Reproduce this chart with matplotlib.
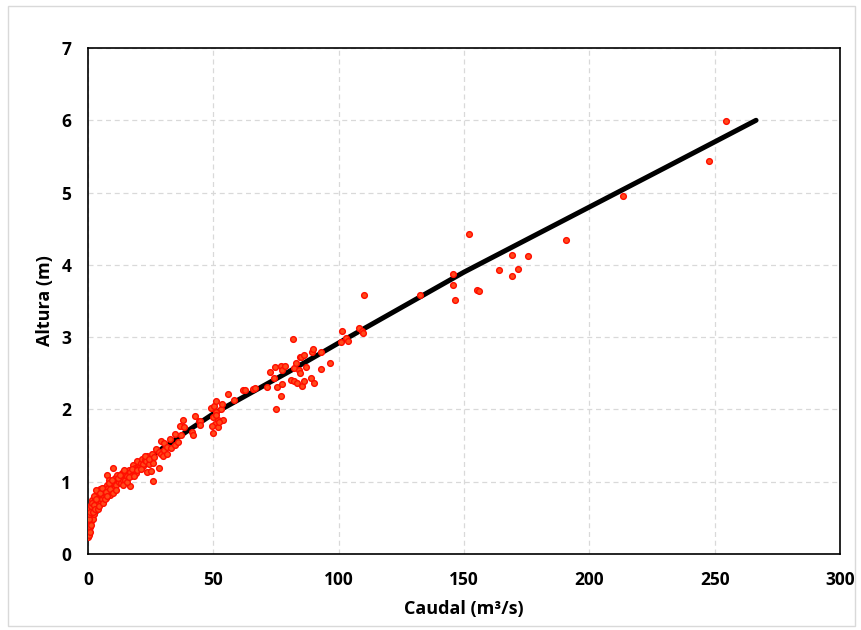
import matplotlib.pyplot as plt
from matplotlib.patches import Rectangle

# Datos aforados (caudal m3/s, altura m)
caudal = [0.1, 0.2, 0.3, 0.2, 0.4, 0.5, 0.3, 0.6, 0.7, 0.8, 0.5, 1.0, 1.1, 0.9, 1.3, 1.4, 1.6, 1.2, 1.8, 1.9,
          2.1, 2.3, 1.7, 2.5, 2.6, 2.8, 3.0, 3.2, 3.4, 3.6, 3.8, 4.0, 4.2, 4.5, 4.8, 5.0, 5.3, 5.6, 5.9, 6.2,
          6.5, 6.8, 7.1, 7.4, 7.4, 7.8, 8.1, 8.5, 8.8, 9.2, 9.6, 10.1, 10.0, 10.4, 10.8, 11.2, 11.7, 12.2, 12.6, 13.1,
          13.6, 14.1, 14.1, 14.8, 15.3, 15.7, 16.2, 16.8, 16.8, 17.3, 17.8, 18.2, 18.7, 19.2, 19.7, 20.1, 20.5, 21.0, 21.4, 21.9,
          22.1, 22.6, 23.1, 23.4, 23.7, 24.2, 25.0, 25.6, 25.8, 26.0, 27.1, 28.2, 28.3, 29.0, 29.1, 29.8, 30.2, 30.3, 31.4, 31.6,
          32.7, 33.0, 34.6, 34.8, 36.0, 36.7, 37.1, 37.8, 38.4, 41.4, 42.0, 42.6, 44.2, 44.7, 44.8,
          0.2, 0.4, 0.6, 0.3, 0.7, 1.0, 1.2, 1.5, 1.9, 2.2, 2.4, 2.7, 3.1, 3.3, 3.9, 4.4, 4.9, 5.4, 6.0, 6.6,
          7.0, 7.7, 8.3, 8.9, 9.4, 9.9, 11.0, 11.9, 12.9, 13.8, 14.5, 15.5, 16.5, 17.5, 18.5, 19.5, 21.2, 22.8, 24.5, 26.5,
          49.1, 50.3, 53.0, 50.9, 49.7, 52.0, 53.8, 50.7, 49.3, 52.0, 50.0, 51.0, 52.1, 50.9, 53.6, 56.0, 58.1,
          61.7, 62.6, 65.8, 66.7, 71.3, 72.5, 74.1, 74.7, 75.1, 75.5, 77.0, 77.1, 77.3, 77.4, 78.5, 80.8, 81.8, 82.3,
          82.3, 83.0, 83.5, 84.0, 84.6, 84.7, 85.0, 85.2, 86.2, 86.3, 87.0, 89.0, 89.5, 89.9, 90.3, 92.8, 92.8, 96.5,
          101.0, 101.4, 102.8, 103.7, 108.2, 109.4, 109.8, 110.0,
          132.4, 145.5, 145.5, 146.4, 152.0, 155.2, 156.1, 163.8, 169.1, 169.1, 171.5, 175.5, 190.7, 213.3, 247.7, 254.5]
altura = [0.24, 0.30, 0.27, 0.35, 0.33, 0.40, 0.44, 0.38, 0.46, 0.50, 0.52, 0.45, 0.55, 0.60, 0.50, 0.62, 0.57, 0.68, 0.49, 0.65,
          0.60, 0.72, 0.75, 0.55, 0.66, 0.78, 0.62, 0.70, 0.82, 0.66, 0.75, 0.86, 0.70, 0.78, 0.90, 0.72, 0.82, 0.76, 0.88, 0.80,
          0.92, 0.84, 0.78, 0.95, 1.09, 0.86, 0.92, 1.03, 0.82, 0.95, 0.90, 1.19, 1.00, 0.92, 1.05, 0.96, 1.10, 1.00, 1.06, 0.98,
          1.12, 1.03, 1.12, 1.02, 1.10, 1.08, 1.16, 1.14, 0.94, 1.08, 1.23, 1.15, 1.19, 1.12, 1.28, 1.20, 1.19, 1.26, 1.32, 1.22,
          1.24, 1.30, 1.29, 1.14, 1.35, 1.25, 1.15, 1.39, 1.01, 1.26, 1.45, 1.41, 1.19, 1.57, 1.39, 1.36, 1.53, 1.44, 1.39, 1.48,
          1.59, 1.46, 1.66, 1.51, 1.55, 1.77, 1.64, 1.85, 1.76, 1.69, 1.65, 1.91, 1.84, 1.84, 1.78,
          0.48, 0.56, 0.31, 0.62, 0.58, 0.66, 0.40, 0.70, 0.58, 0.80, 0.68, 0.62, 0.76, 0.88, 0.62, 0.66, 0.84, 0.92, 0.70, 0.76,
          0.86, 0.80, 0.98, 0.90, 1.02, 0.84, 0.88, 1.05, 1.10, 0.95, 1.16, 1.00, 1.06, 1.18, 1.08, 1.16, 1.18, 1.36, 1.31, 1.34,
          2.02, 2.05, 2.01, 1.96, 1.89, 1.85, 1.86, 1.80, 1.77, 1.76, 1.67, 1.92, 1.83, 2.11, 2.08, 2.21, 2.13,
          2.27, 2.27, 2.28, 2.29, 2.31, 2.52, 2.43, 2.59, 2.01, 2.31, 2.60, 2.18, 2.35, 2.54, 2.60, 2.41, 2.98, 2.58,
          2.40, 2.64, 2.37, 2.55, 2.72, 2.51, 2.72, 2.33, 2.75, 2.40, 2.59, 2.44, 2.79, 2.84, 2.37, 2.80, 2.56, 2.64,
          2.93, 3.08, 2.99, 2.95, 3.13, 3.09, 3.06, 3.59,
          3.58, 3.87, 3.72, 3.52, 4.43, 3.65, 3.64, 3.93, 4.14, 3.84, 3.94, 4.12, 4.35, 4.95, 5.44, 5.99]

# Curva de descarga ajustada
curva_q = [0, 2, 5, 10, 15, 20, 30, 40, 50, 65, 80, 100, 125, 150, 175, 200, 230, 266.5]
curva_h = [0.28, 0.50, 0.68, 0.90, 1.06, 1.21, 1.47, 1.71, 1.94, 2.23, 2.52, 2.92, 3.41, 3.90, 4.35, 4.80, 5.34, 6.0]

fig = plt.figure(figsize=(8.62, 6.30), dpi=100)
fig.patches.append(Rectangle((0.009, 0.006), 0.983, 0.985, transform=fig.transFigure,
                             fill=False, edgecolor='#d9d9d9', linewidth=1))
ax = fig.add_axes([0.1021, 0.1206, 0.8724, 0.8032])

ax.plot(curva_q, curva_h, color='black', linewidth=3.6, solid_capstyle='round', zorder=2)
ax.scatter(caudal, altura, s=17, facecolor='#ff4a1a', edgecolor='#ff0d00', linewidth=1, zorder=3)

ax.set_xlim(0, 300)
ax.set_ylim(0, 7)
ax.set_xticks(range(0, 301, 50))
ax.set_yticks(range(0, 8))
ax.grid(True, color='#d9d9d9', linestyle=(0, (4, 3)), linewidth=0.9)
ax.set_axisbelow(True)
for s in ax.spines.values():
    s.set_color('black')
    s.set_linewidth(1.2)
ax.tick_params(length=0, pad=12)
for lbl in ax.get_xticklabels() + ax.get_yticklabels():
    lbl.set_fontweight('bold')
    lbl.set_fontsize(12.5)
    lbl.set_family(['Open Sans', 'DejaVu Sans'])

ax.set_xlabel('Caudal (m³/s)', fontsize=13, fontweight='bold', family=['Open Sans', 'DejaVu Sans'], labelpad=8)
ax.set_ylabel('Altura (m)', fontsize=13, fontweight='bold', family=['Open Sans', 'DejaVu Sans'], labelpad=5)

fig.savefig('out.png', dpi=100)
